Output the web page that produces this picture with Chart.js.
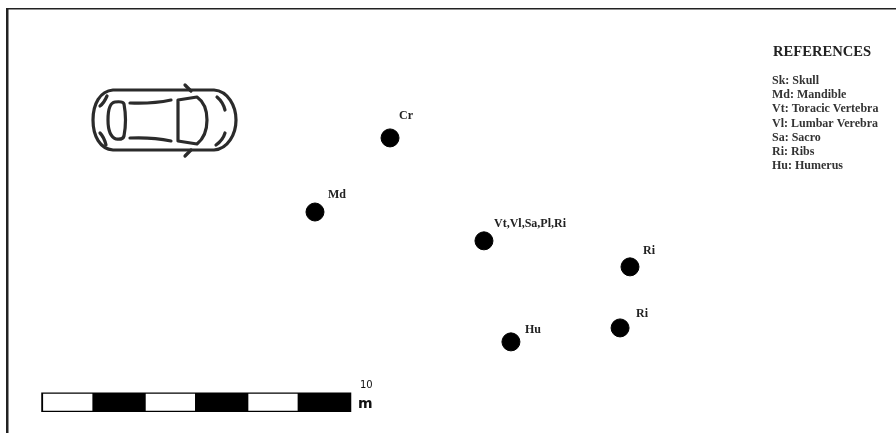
<!DOCTYPE html>
<html>
<head>
<meta charset="utf-8">
<title>Site map</title>
<script src="https://cdn.jsdelivr.net/npm/chart.js@4"></script>
<style>
  html, body { margin: 0; padding: 0; background: #fff; overflow: hidden; }
  canvas { display: block; }
</style>
</head>
<body>
<canvas id="myChart" width="896" height="433"></canvas>
<script>
// positions on the site, in metres
const boneLabels = ["Cr", "Md", "Vt,Vl,Sa,Pl,Ri", "Ri", "Ri", "Hu"];
const boneX = [12.58, 10.16, 15.61, 20.32, 20.0, 16.48];
const boneY = [4.45, 6.84, 7.77, 8.61, 10.58, 11.03];

// scale bar
const scaleStart = 1.33;
const scaleEnd = 11.33;
const scaleRow = 12.98;
const scaleWhite = [[1.39, 2.98], [4.7, 6.29], [8.01, 9.6]];
const scaleTop = "10";
const scaleUnit = "m";

const refTitle = "REFERENCES";
const refLines = [
  "Sk: Skull",
  "Md: Mandible",
  "Vt: Toracic Vertebra",
  "Vl: Lumbar Verebra",
  "Sa: Sacro",
  "Ri: Ribs",
  "Hu: Humerus",
];

// label offset from its point, px
const labelDx = [9, 13, 10, 13, 16, 14];
const labelDy = [-19, -14, -14, -13, -11, -9];

let datasets = [];

// points
let bones = [];
for (let i = 0; i < boneX.length; i++) {
  bones.push({ x: boneX[i], y: boneY[i] });
}
datasets.push({
  type: "scatter",
  label: "Bones",
  data: bones,
  backgroundColor: "#000",
  borderColor: "#000",
  pointRadius: 9,
  pointHoverRadius: 9,
});

// white parts go first, they are drawn on top of the black bar
for (let i = 0; i < scaleWhite.length; i++) {
  datasets.push({
    type: "line",
    data: [
      { x: scaleWhite[i][0], y: scaleRow },
      { x: scaleWhite[i][1], y: scaleRow },
    ],
    borderColor: "#fff",
    borderWidth: 17,
    pointRadius: 0,
  });
}
datasets.push({
  type: "line",
  data: [
    { x: scaleStart, y: scaleRow },
    { x: scaleEnd, y: scaleRow },
  ],
  borderColor: "#000",
  borderWidth: 19.5,
  pointRadius: 0,
});

function drawCar(ctx) {
  ctx.save();
  ctx.strokeStyle = "#2b2b2b";
  ctx.lineWidth = 3.2;
  ctx.lineCap = "round";
  ctx.lineJoin = "round";

  // body
  ctx.beginPath();
  ctx.moveTo(113, 90);
  ctx.lineTo(214, 90);
  ctx.bezierCurveTo(228, 91, 236, 106, 236, 120);
  ctx.bezierCurveTo(236, 134, 228, 149, 214, 150);
  ctx.lineTo(113, 150);
  ctx.bezierCurveTo(100, 149, 93, 136, 93, 120);
  ctx.bezierCurveTo(93, 104, 100, 91, 113, 90);
  ctx.stroke();

  // rear window
  ctx.beginPath();
  ctx.moveTo(115, 102);
  ctx.quadraticCurveTo(123, 101, 124, 104);
  ctx.quadraticCurveTo(127, 120, 124, 136);
  ctx.quadraticCurveTo(123, 140, 116, 139);
  ctx.quadraticCurveTo(108, 136, 108, 120);
  ctx.quadraticCurveTo(108, 103, 115, 102);
  ctx.stroke();

  // windshield
  ctx.beginPath();
  ctx.moveTo(178, 100);
  ctx.lineTo(197, 97);
  ctx.quadraticCurveTo(207, 104, 207, 120);
  ctx.quadraticCurveTo(207, 136, 197, 144);
  ctx.lineTo(178, 141);
  ctx.closePath();
  ctx.stroke();

  // side windows
  ctx.beginPath();
  ctx.moveTo(130, 103);
  ctx.quadraticCurveTo(152, 104, 171, 100);
  ctx.moveTo(130, 138);
  ctx.quadraticCurveTo(152, 137, 171, 141);
  ctx.stroke();

  // mirrors
  ctx.beginPath();
  ctx.moveTo(185, 85);
  ctx.lineTo(191, 91);
  ctx.moveTo(185, 156);
  ctx.lineTo(191, 150);
  ctx.stroke();

  // lights
  ctx.beginPath();
  ctx.moveTo(107, 96);
  ctx.quadraticCurveTo(104, 103, 100, 106);
  ctx.moveTo(100, 133);
  ctx.quadraticCurveTo(104, 137, 106, 145);
  ctx.moveTo(217, 97);
  ctx.quadraticCurveTo(223, 102, 225, 110);
  ctx.moveTo(225, 133);
  ctx.quadraticCurveTo(223, 140, 216, 145);
  ctx.stroke();
  ctx.restore();
}

const mapExtras = {
  id: "mapExtras",
  beforeDraw(chart) {
    const ctx = chart.ctx;
    ctx.save();
    ctx.fillStyle = "#fff";
    ctx.fillRect(0, 0, chart.width, chart.height);
    // frame, only left and top show
    ctx.fillStyle = "#222";
    ctx.fillRect(6, 8, 2.5, 425);
    ctx.fillRect(6, 8, 890, 1.5);
    ctx.restore();
    drawCar(ctx);
  },
  afterDraw(chart) {
    const ctx = chart.ctx;
    const xs = chart.scales.x;
    const ys = chart.scales.y;
    ctx.save();
    ctx.textAlign = "left";
    ctx.textBaseline = "alphabetic";

    ctx.fillStyle = "#222";
    ctx.font = 'bold 12px "Liberation Serif"';
    for (let i = 0; i < boneLabels.length; i++) {
      ctx.fillText(
        boneLabels[i],
        xs.getPixelForValue(boneX[i]) + labelDx[i],
        ys.getPixelForValue(boneY[i]) + labelDy[i]
      );
    }

    ctx.font = 'bold 14.6px "Liberation Serif"';
    ctx.fillText(refTitle, 773, 56);
    ctx.fillStyle = "#333";
    ctx.font = 'bold 12px "Liberation Serif"';
    for (let i = 0; i < refLines.length; i++) {
      ctx.fillText(refLines[i], 772, 84 + i * 14.2);
    }

    ctx.fillStyle = "#111";
    ctx.font = '10px "DejaVu Sans"';
    ctx.fillText(scaleTop, 360, 388);
    ctx.font = 'bold 14px "DejaVu Sans"';
    ctx.fillText(scaleUnit, 358, 408);
    ctx.restore();
  },
};

let ctx = document.getElementById("myChart").getContext("2d");
let graphie = new Chart(ctx, {
  data: { datasets: datasets },
  plugins: [mapExtras],
  options: {
    responsive: false,
    animation: false,
    layout: { padding: 0, autoPadding: false },
    plugins: { legend: { display: false }, tooltip: { enabled: false } },
    scales: {
      x: { type: "linear", display: false, min: 0, max: 28.9 },
      y: { type: "linear", display: false, min: 0, max: 13.97, reverse: true },
    },
  },
});
</script>
</body>
</html>
